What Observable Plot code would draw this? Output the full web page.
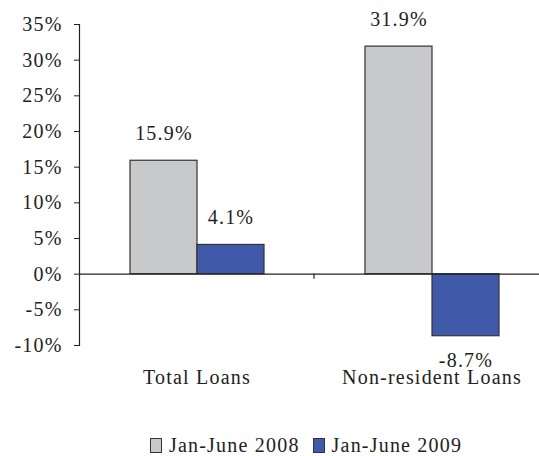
<!DOCTYPE html>
<html><head><meta charset="utf-8">
<script src="https://cdn.jsdelivr.net/npm/d3@7"></script>
<script src="https://cdn.jsdelivr.net/npm/@observablehq/plot@0.6"></script>
<style>
body{margin:0;background:#fff;font-family:"Liberation Serif","Times New Roman",serif;color:#222;}
#chart{width:539px;overflow:hidden;}
.legend{display:flex;align-items:center;padding-left:150px;padding-top:34px;font-size:20px;letter-spacing:1.2px;line-height:normal;white-space:nowrap;}
.legend .sw{display:inline-block;width:10px;height:13px;border:1px solid #333;margin-right:7px;}
.legend .item{display:flex;align-items:center;margin-right:13px;}
</style></head><body><div id="chart"></div><script>
const categories = ["Total Loans", "Non-resident Loans"];
const series = ["Jan-June 2008", "Jan-June 2009"];
const values2008 = [15.9, 31.9];
const values2009 = [4.1, -8.7];
const yTicks = [-10, -5, 0, 5, 10, 15, 20, 25, 30, 35];
const colors = ["#c8c9cb", "#405aa9"];

const data = categories.flatMap((c, i) => [
  {category: c, series: series[0], value: values2008[i]},
  {category: c, series: series[1], value: values2009[i]}
]);
const fmt = d => d.value.toFixed(1) + "%";

const plot = Plot.plot({
  width: 539, height: 400,
  marginTop: 24, marginBottom: 55, marginLeft: 79, marginRight: -10,
  style: {fontFamily: '"Liberation Serif","Times New Roman",serif', fontSize: "20px", color: "#222", letterSpacing: "1.2px", overflow: "visible"},
  fx: {domain: categories, padding: 0, label: null, axis: null},
  x: {domain: series, paddingInner: 0, paddingOuter: 0.728, axis: null},
  y: {domain: [-10, 35], axis: null},
  color: {domain: series, range: colors},
  marks: [
    Plot.axisY({ticks: yTicks, tickFormat: d => d + "%", tickSize: 5, tickPadding: 12, fontSize: 20, label: null, stroke: "#222", strokeOpacity: 1}),
    Plot.frame({anchor: "left", facetAnchor: "left", stroke: "#222", strokeWidth: 1.2}),
    Plot.axisFx({anchor: "bottom", tickSize: 0, tickPadding: 24, fontSize: 20, label: null}),
    Plot.barY(data, {fx: "category", x: "series", y: "value", fill: "series", stroke: "#333", strokeWidth: 1.2}),
    Plot.ruleY([0], {stroke: "#222", strokeWidth: 1.3}),
    Plot.text(data.filter(d => d.value >= 0), {fx: "category", x: "series", y: "value", text: fmt, dy: -27, fontSize: 20, fill: "#222"}),
    Plot.text(data.filter(d => d.value < 0), {fx: "category", x: "series", y: "value", text: fmt, dy: 24, fontSize: 20, fill: "#222"})
  ]
});
document.getElementById("chart").appendChild(plot);

// category boundary tick below zero line
const fxs = plot.scale("fx"), ys = plot.scale("y");
const y0 = ys.apply(0);
d3.select(plot).append("g").attr("stroke", "#222").attr("stroke-width", 1.2)
  .selectAll("line").data(categories.slice(1)).join("line")
  .attr("x1", d => fxs.apply(d)).attr("x2", d => fxs.apply(d))
  .attr("y1", y0).attr("y2", y0 + 5);

// legend
const leg = d3.select("body").append("div").attr("class", "legend");
series.forEach((s, i) => {
  const it = leg.append("span").attr("class", "item");
  it.append("span").attr("class", "sw").style("background", colors[i]);
  it.append("span").text(s);
});
</script></body></html>
